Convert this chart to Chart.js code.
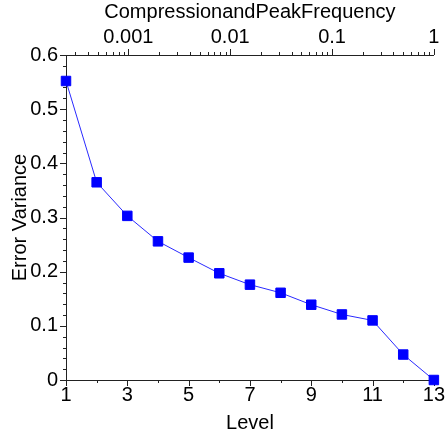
<!DOCTYPE html>
<html>
<head>
<meta charset="utf-8">
<script src="https://cdn.jsdelivr.net/npm/chart.js@4.4.1/dist/chart.umd.min.js"></script>
<style>
  html, body { margin: 0; padding: 0; background: #fff; }
  canvas { display: block; }
</style>
</head>
<body>
<canvas id="chart" width="448" height="437"></canvas>
<script>
// Data
const levels = [1, 2, 3, 4, 5, 6, 7, 8, 9, 10, 11, 12, 13];
const errorVariance = [0.552, 0.365, 0.303, 0.256, 0.226, 0.197, 0.176, 0.161, 0.139, 0.121, 0.110, 0.047, 0.0];

// Axis ticks
const levelTicks = [1, 3, 5, 7, 9, 11, 13];
const varianceTicks = [0, 0.1, 0.2, 0.3, 0.4, 0.5, 0.6];
const freqTicks = [0.001, 0.01, 0.1, 1];
const freqRange = [0.000244, 1];   // top axis: level 1 .. level 13

const ink = '#222';
const font = { family: "'Liberation Sans', Arial, sans-serif", size: 20 };

// Major / minor tick marks drawn through the chart's own scales
const tickMarks = {
  id: 'tickMarks',
  beforeDatasetsDraw(chart) {
    const { ctx, chartArea: a } = chart;
    const { x, y, x2 } = chart.scales;
    ctx.save();
    ctx.strokeStyle = ink;
    ctx.lineWidth = 1;
    ctx.beginPath();
    // left axis, every 0.02
    for (let i = 0; i <= 30; i++) {
      const p = Math.round(y.getPixelForValue(i * 0.02)) + 0.5;
      const len = i % 5 === 0 ? 6 : 3;
      ctx.moveTo(a.left - len, p); ctx.lineTo(a.left, p);
    }
    // bottom axis, every level
    levels.forEach(v => {
      const p = Math.round(x.getPixelForValue(v)) + 0.5;
      const len = v % 2 === 1 ? 6 : 3;
      ctx.moveTo(p, a.bottom); ctx.lineTo(p, a.bottom + len);
    });
    // top log axis
    for (let e = -4; e <= 0; e++) {
      for (let m = 1; m <= 9; m++) {
        const v = m * Math.pow(10, e);
        if (v < freqRange[0] * 0.999 || v > freqRange[1] * 1.001) continue;
        const p = Math.round(x2.getPixelForValue(v)) + 0.5;
        const len = m === 1 ? 6 : 3;
        ctx.moveTo(p, a.top); ctx.lineTo(p, a.top - len);
      }
    }
    ctx.stroke();
    ctx.restore();
  }
};

const axisBase = {
  grid: { display: false, drawTicks: false },
  border: { display: true, color: ink, width: 1 },
  ticks: { color: '#000', font, autoSkip: false, maxRotation: 0 }
};

new Chart(document.getElementById('chart'), {
  type: 'line',
  data: {
    datasets: [{
      data: levels.map((l, i) => ({ x: l, y: errorVariance[i] })),
      xAxisID: 'x',
      yAxisID: 'y',
      borderColor: '#2a2aff',
      borderWidth: 1,
      pointStyle: 'rect',
      pointRadius: 6.7,
      pointBackgroundColor: '#0000ff',
      pointBorderColor: '#0000ff',
      pointBorderWidth: 1,
      tension: 0,
      clip: false
    }]
  },
  options: {
    responsive: false,
    animation: false,
    layout: { padding: { top: 0, right: 13, bottom: 0, left: 0 } },
    plugins: { legend: { display: false }, tooltip: { enabled: false } },
    scales: {
      x: {
        ...axisBase,
        type: 'linear',
        position: 'bottom',
        min: 1, max: 13,
        ticks: { ...axisBase.ticks, padding: 3 },
        afterBuildTicks: s => { s.ticks = levelTicks.map(v => ({ value: v })); },
        afterFit: s => { s.height = 57; },
        title: { display: true, text: 'Level', color: '#000', font, padding: { top: 0, bottom: 2 } }
      },
      x2: {
        ...axisBase,
        type: 'logarithmic',
        position: 'top',
        min: freqRange[0], max: freqRange[1],
        ticks: { ...axisBase.ticks, padding: 6, callback: v => String(v) },
        afterBuildTicks: s => { s.ticks = freqTicks.map(v => ({ value: v })); },
        afterFit: s => { s.height = 55; },
        title: { display: true, text: 'CompressionandPeakFrequency', color: '#000', font, padding: { top: 0, bottom: 0 } }
      },
      y: {
        ...axisBase,
        type: 'linear',
        position: 'left',
        min: 0, max: 0.6,
        ticks: { ...axisBase.ticks, padding: 8, callback: v => String(+v.toFixed(1)) },
        afterBuildTicks: s => { s.ticks = varianceTicks.map(v => ({ value: v })); },
        afterFit: s => { s.width = 66; },
        title: { display: true, text: 'Error Variance', color: '#000', font, padding: { top: 8, bottom: 0 } }
      }
    }
  },
  plugins: [tickMarks]
});
</script>
</body>
</html>
